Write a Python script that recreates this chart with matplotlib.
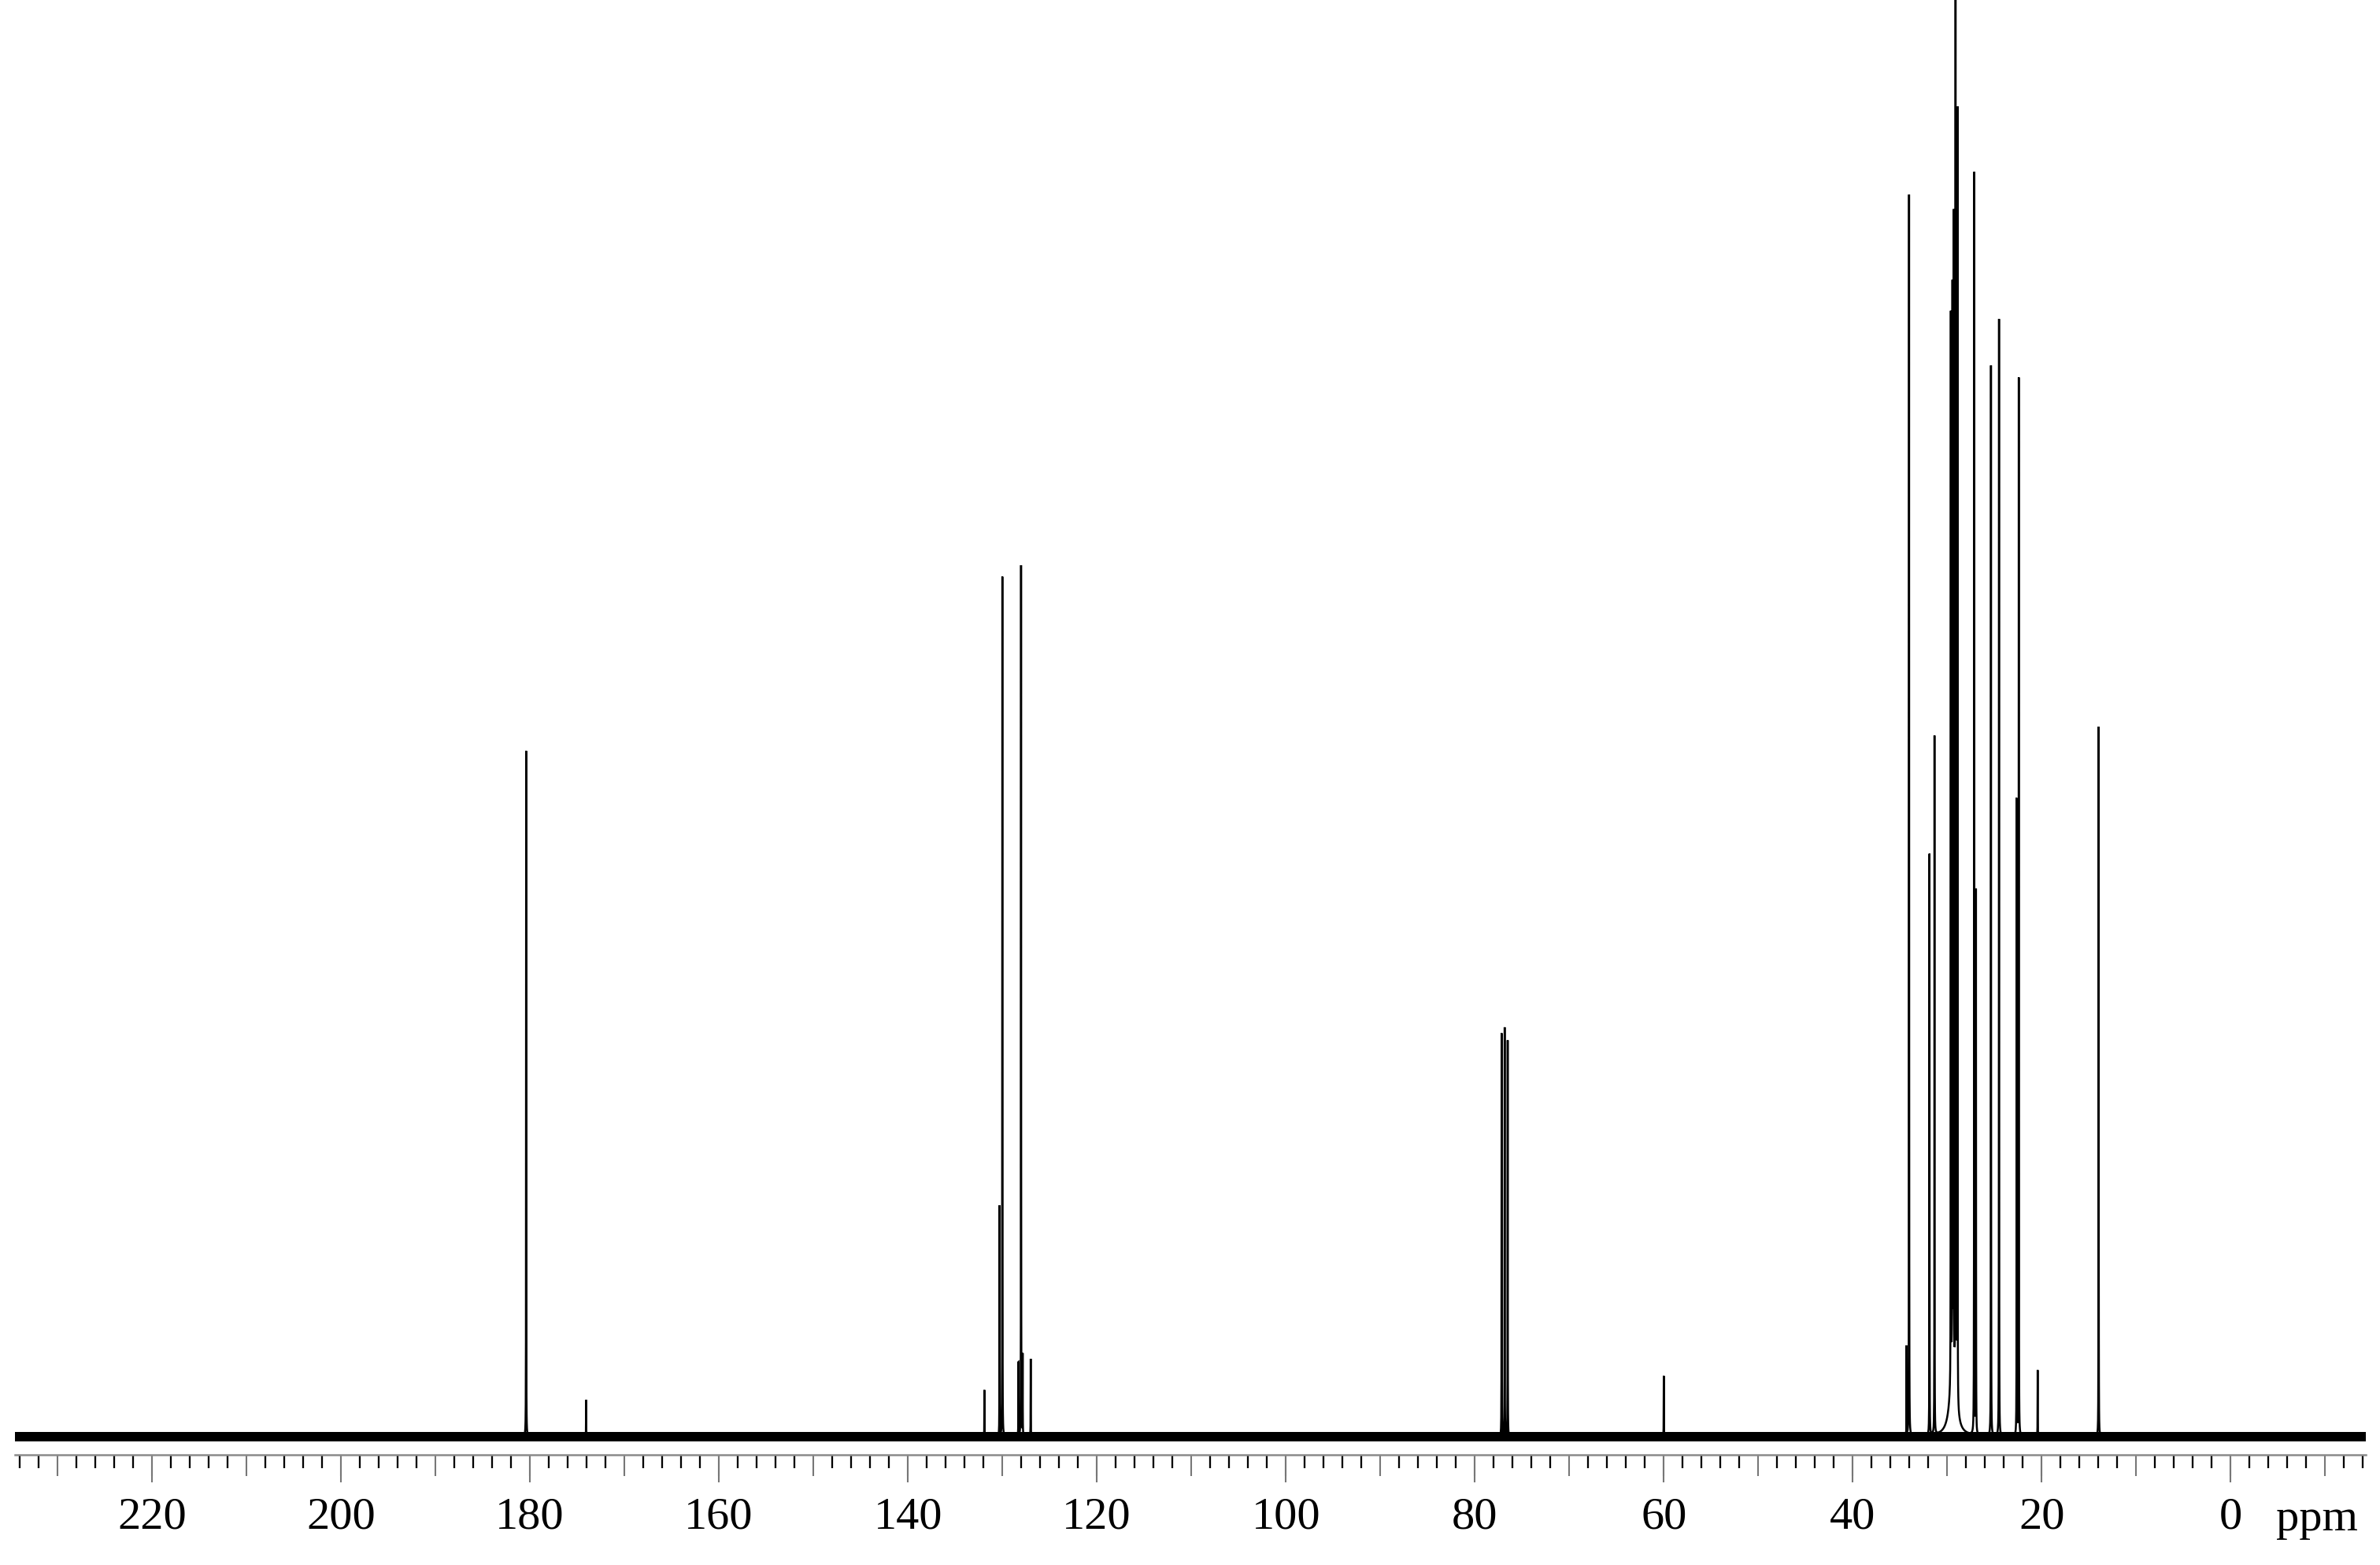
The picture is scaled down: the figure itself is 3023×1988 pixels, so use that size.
import matplotlib
matplotlib.use("Agg")
import matplotlib.pyplot as plt
import numpy as np
from matplotlib.ticker import MultipleLocator, NullFormatter

# peak positions (ppm) and heights (% of tallest line)
PEAK_PPM = [180.40, 174.05, 131.90, 130.30, 130.00, 128.30, 128.02, 127.85, 127.00,
            77.16, 76.84, 76.52, 60.00, 34.30, 34.04, 31.88, 31.35,
            29.62, 29.45, 29.32, 29.12, 29.05, 28.92, 27.15, 26.96,
            25.37, 24.52, 22.65, 22.43, 20.43, 13.98]
PEAK_HEIGHT = [48.5, 2.6, 3.3, 16.3, 60.8, 5.2, 61.6, 5.7, 5.5,
               28.5, 28.9, 28.0, 4.3, 6.3, 87.8, 41.1, 49.4,
               75.6, 76.0, 81.1, 100.0, 84.5, 91.5, 89.2, 38.4,
               75.7, 79.0, 45.0, 74.8, 4.7, 50.2]

# broad hump under the CH2 envelope
HUMP_PPM = [29.4]
HUMP_HEIGHT = [5.0]

PPM_LEFT, PPM_RIGHT = 234.5, -14.3
LABEL_TICKS = list(range(0, 221, 20))

W, H, DPI = 3023, 1988, 300
LINE_HWHM = 0.01
HUMP_HWHM = 0.35
NOISE = 0.32


def lorentz(x, x0, h, w):
    return h * w ** 2 / ((x - x0) ** 2 + w ** 2)


ppm = np.union1d(np.arange(PPM_RIGHT, PPM_LEFT, 0.005), PEAK_PPM)
spec = np.zeros_like(ppm)
for x0, h in zip(PEAK_PPM, PEAK_HEIGHT):
    spec += lorentz(ppm, x0, h, LINE_HWHM)
for x0, h in zip(HUMP_PPM, HUMP_HEIGHT):
    spec += lorentz(ppm, x0, h, HUMP_HWHM)

fig = plt.figure(figsize=(W / DPI, H / DPI), dpi=DPI)
ax = fig.add_axes([19 / W, 1 - 1848 / H, (3005 - 19) / W, 1848 / H])

ax.axhspan(-NOISE, NOISE, color="black", lw=0)
ax.plot(ppm, spec, color="black", lw=0.6, solid_joinstyle="miter")

ax.set_xlim(PPM_LEFT, PPM_RIGHT)
ax.set_ylim(-1.28, 101.6)
for side in ("left", "right", "top"):
    ax.spines[side].set_visible(False)
ax.spines["bottom"].set_color("#8a8a8a")
ax.spines["bottom"].set_linewidth(0.6)
ax.set_yticks([])

# 10 ppm and 2 ppm ticks on the main axis, no labels
ax.xaxis.set_major_locator(MultipleLocator(10))
ax.xaxis.set_minor_locator(MultipleLocator(2))
ax.xaxis.set_major_formatter(NullFormatter())
ax.tick_params(axis="x", which="major", direction="out", length=6.5, width=0.5, color="#777777")
ax.tick_params(axis="x", which="minor", direction="out", length=4.1, width=0.55, color="black")

# labelled 20 ppm ticks
sec = ax.secondary_xaxis("bottom")
sec.spines["bottom"].set_visible(False)
sec.set_xticks(LABEL_TICKS)
sec.set_xticklabels([str(t) for t in LABEL_TICKS])
sec.tick_params(axis="x", direction="out", length=8.4, width=0.5, color="#777777", pad=4.5)
for lab in sec.get_xticklabels():
    lab.set_fontfamily("Liberation Serif")
    lab.set_fontsize(14)

fig.text(2943 / W, 1 - 1944 / H, "ppm", ha="center", va="baseline",
         fontfamily="Liberation Serif", fontsize=14)

fig.savefig("out.png", dpi=DPI, facecolor="white")
